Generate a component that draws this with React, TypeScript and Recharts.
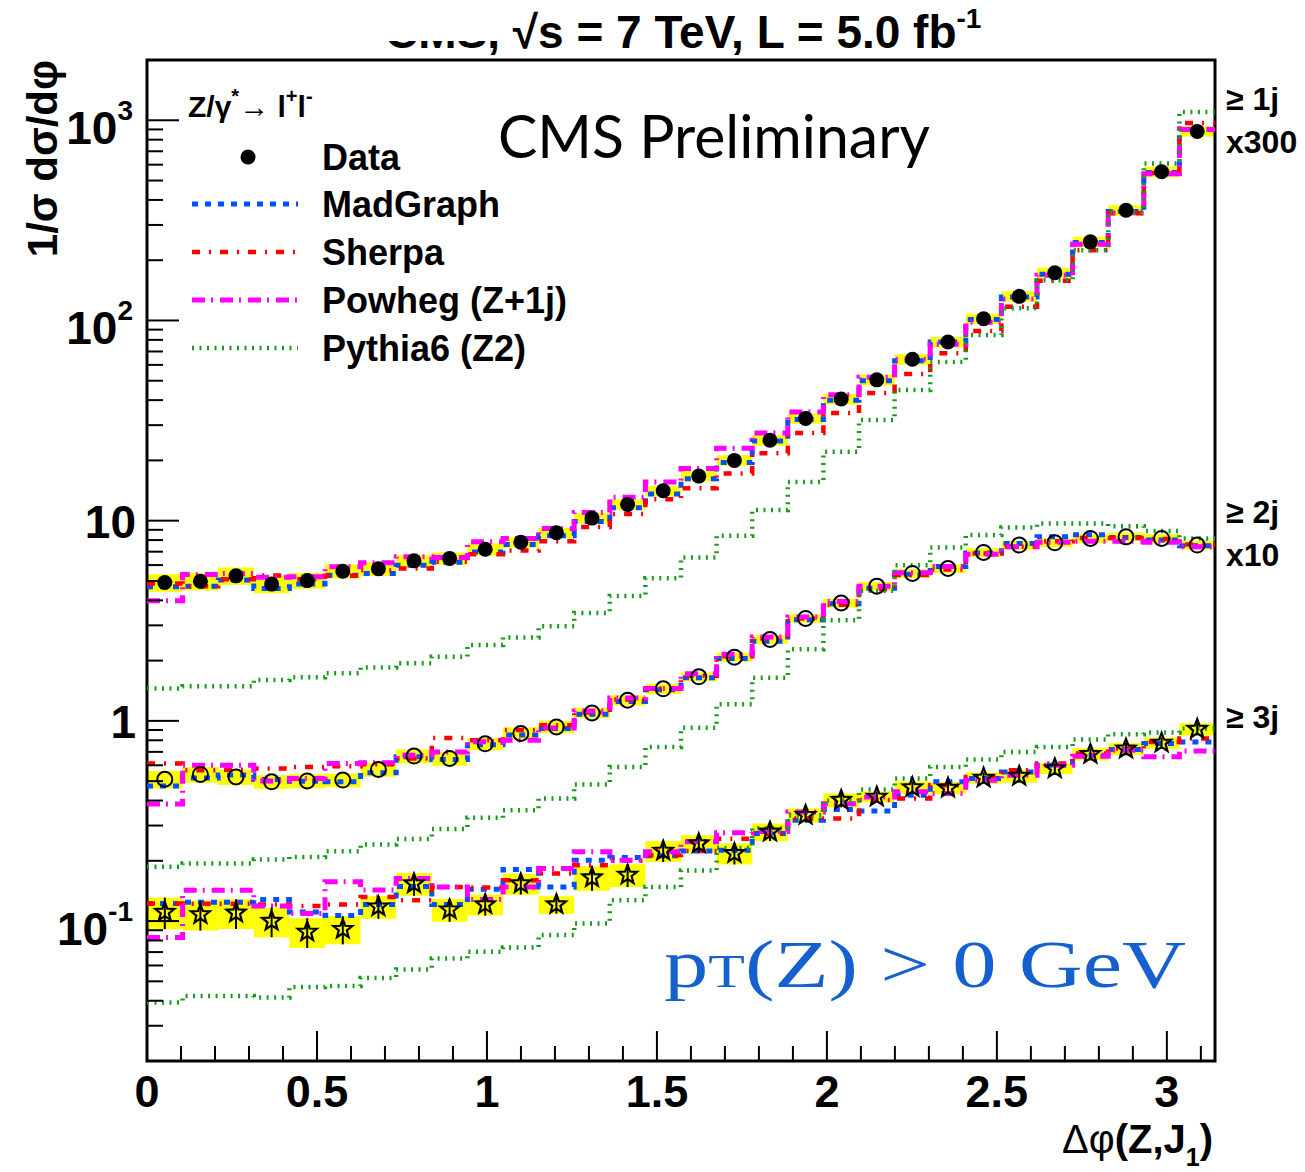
import React from 'react'
import { ComposedChart, Line, Scatter, XAxis, YAxis, ReferenceArea, ErrorBar } from 'recharts'

// 30 equal bins in delta-phi between 0 and pi
const N_BINS = 30
const BIN_WIDTH = Math.PI / N_BINS

// >= 1 jet (scaled x300)
const ONEJ_DATA = [4.91, 4.98, 5.30, 4.82, 5.02, 5.59, 5.75, 6.30, 6.48, 7.20, 7.80, 8.70, 10.3, 12.05, 14.1, 16.7, 20.0, 25.2, 32.4, 40.5, 50.5, 64.0, 78.0, 102, 132, 173, 247, 355, 553, 880]
const ONEJ_ERR = [0.10, 0.10, 0.10, 0.10, 0.09, 0.08, 0.08, 0.07, 0.07, 0.07, 0.06, 0.06, 0.06, 0.06, 0.06, 0.06, 0.06, 0.06, 0.06, 0.06, 0.06, 0.06, 0.06, 0.06, 0.06, 0.06, 0.06, 0.06, 0.06, 0.06]
const ONEJ_MADGRAPH = [4.67, 4.70, 5.05, 4.58, 4.82, 5.34, 5.44, 5.98, 6.20, 6.98, 7.60, 8.40, 9.90, 11.6, 13.6, 16.2, 19.5, 25.0, 32.0, 40.0, 50.0, 63.0, 78.0, 101, 131, 170, 245, 350, 548, 900]
const ONEJ_SHERPA = [4.86, 4.70, 5.10, 5.33, 5.10, 5.30, 5.66, 5.77, 6.24, 6.80, 7.10, 7.90, 9.30, 10.8, 12.8, 14.5, 17.2, 21.7, 27.4, 34.5, 43.4, 54.0, 68.6, 88.5, 117, 158, 224, 343, 545, 970]
const ONEJ_POWHEG = [3.98, 5.38, 5.44, 5.21, 5.25, 5.89, 6.16, 6.60, 6.55, 7.85, 8.15, 9.15, 11.0, 13.1, 15.6, 18.2, 23.0, 27.4, 34.9, 42.5, 52.0, 64.0, 76.0, 98.0, 128, 168, 240, 345, 540, 900]
const ONEJ_PYTHIA = [1.45, 1.49, 1.49, 1.60, 1.65, 1.73, 1.85, 1.94, 2.09, 2.39, 2.61, 2.97, 3.46, 4.21, 5.15, 6.55, 8.40, 11.3, 15.6, 22.1, 31.8, 44.9, 62.1, 84.5, 115, 159, 224, 349, 608, 1100]

// >= 2 jets (scaled x10)
const TWOJ_DATA = [0.511, 0.540, 0.525, 0.496, 0.501, 0.506, 0.572, 0.667, 0.649, 0.768, 0.865, 0.933, 1.096, 1.268, 1.445, 1.66, 2.08, 2.55, 3.25, 3.88, 4.71, 5.45, 5.77, 6.94, 7.55, 7.75, 8.15, 8.30, 8.15, 7.55]
const TWOJ_ERR = [0.10, 0.09, 0.09, 0.08, 0.08, 0.08, 0.08, 0.08, 0.08, 0.07, 0.07, 0.07, 0.06, 0.06, 0.06, 0.05, 0.05, 0.05, 0.05, 0.05, 0.05, 0.05, 0.05, 0.05, 0.05, 0.05, 0.05, 0.05, 0.05, 0.05]
const TWOJ_MADGRAPH = [0.473, 0.519, 0.536, 0.510, 0.500, 0.496, 0.550, 0.661, 0.641, 0.760, 0.850, 0.915, 1.08, 1.25, 1.43, 1.64, 2.05, 2.50, 3.20, 3.85, 4.60, 5.40, 5.90, 6.90, 7.70, 8.30, 8.50, 8.25, 8.00, 7.50]
const TWOJ_SHERPA = [0.612, 0.567, 0.570, 0.578, 0.589, 0.594, 0.608, 0.649, 0.820, 0.800, 0.900, 0.950, 1.10, 1.28, 1.45, 1.68, 2.10, 2.58, 3.25, 3.80, 4.55, 5.35, 5.70, 6.85, 7.40, 7.90, 8.20, 8.20, 8.10, 7.60]
const TWOJ_POWHEG = [0.384, 0.601, 0.601, 0.501, 0.515, 0.612, 0.618, 0.674, 0.700, 0.786, 0.800, 0.920, 1.12, 1.30, 1.45, 1.72, 2.15, 2.62, 3.30, 3.95, 4.70, 5.50, 5.90, 6.80, 7.40, 7.80, 7.90, 7.90, 7.80, 7.40]
const TWOJ_PYTHIA = [0.187, 0.194, 0.194, 0.203, 0.209, 0.223, 0.241, 0.257, 0.288, 0.328, 0.358, 0.409, 0.481, 0.589, 0.741, 0.923, 1.21, 1.64, 2.28, 3.18, 4.46, 5.99, 7.35, 8.47, 9.25, 9.69, 9.69, 9.39, 8.87, 8.15]

// >= 3 jets
const THREEJ_DATA = [0.111, 0.108, 0.110, 0.100, 0.0883, 0.0911, 0.118, 0.154, 0.114, 0.121, 0.154, 0.121, 0.165, 0.170, 0.224, 0.244, 0.218, 0.279, 0.338, 0.402, 0.417, 0.465, 0.462, 0.519, 0.530, 0.578, 0.682, 0.725, 0.776, 0.910]
const THREEJ_ERR = [0.18, 0.17, 0.17, 0.17, 0.17, 0.16, 0.13, 0.13, 0.13, 0.12, 0.12, 0.10, 0.14, 0.13, 0.12, 0.10, 0.12, 0.10, 0.08, 0.08, 0.06, 0.07, 0.07, 0.065, 0.075, 0.06, 0.07, 0.07, 0.065, 0.07]
const THREEJ_MADGRAPH = [0.1225, 0.124, 0.124, 0.128, 0.111, 0.1065, 0.121, 0.149, 0.121, 0.144, 0.181, 0.148, 0.201, 0.208, 0.212, 0.224, 0.226, 0.274, 0.319, 0.361, 0.355, 0.425, 0.496, 0.515, 0.556, 0.601, 0.674, 0.720, 0.771, 0.785]
const THREEJ_SHERPA = [0.1225, 0.122, 0.122, 0.121, 0.119, 0.121, 0.132, 0.127, 0.148, 0.147, 0.160, 0.173, 0.190, 0.200, 0.214, 0.224, 0.258, 0.274, 0.325, 0.325, 0.402, 0.410, 0.477, 0.525, 0.567, 0.612, 0.687, 0.728, 0.785, 0.817]
const THREEJ_POWHEG = [0.0828, 0.1426, 0.1426, 0.119, 0.109, 0.157, 0.143, 0.163, 0.148, 0.128, 0.148, 0.183, 0.222, 0.201, 0.222, 0.249, 0.276, 0.280, 0.351, 0.386, 0.417, 0.442, 0.434, 0.505, 0.535, 0.601, 0.666, 0.714, 0.661, 0.708]
const THREEJ_PYTHIA = [0.0392, 0.0422, 0.0422, 0.0415, 0.0469, 0.0474, 0.0520, 0.0573, 0.0650, 0.0702, 0.0738, 0.0851, 0.0973, 0.127, 0.148, 0.179, 0.232, 0.291, 0.338, 0.400, 0.454, 0.515, 0.589, 0.641, 0.700, 0.741, 0.807, 0.858, 0.875, 0.916]

const X_MAJOR = [0, 0.5, 1, 1.5, 2, 2.5, 3]
const X_LABELS = ['0', '0.5', '1', '1.5', '2', '2.5', '3']
const X_TICKS = Array.from({ length: 32 }, (_, i) => i / 10)

const Y_DOMAIN = [0.02, 2000]
const Y_MAJOR = [0.1, 1, 10, 100, 1000]
const Y_LABELS = [['10', '-1'], ['1', ''], ['10', ''], ['10', '2'], ['10', '3']]
const Y_TICKS = [0.01, 0.1, 1, 10, 100, 1000]
  .flatMap(d => [1, 2, 3, 4, 5, 6, 7, 8, 9].map(m => +(d * m).toPrecision(3)))
  .filter(v => v >= Y_DOMAIN[0] && v <= Y_DOMAIN[1])

const MC_STYLES = [
  { key: 'madgraph', name: 'MadGraph', color: '#0050ff', dash: '6 7', width: 5 },
  { key: 'sherpa', name: 'Sherpa', color: '#ff0000', dash: '8 9 2 9', width: 4.5 },
  { key: 'powheg', name: 'Powheg (Z+1j)', color: '#ff00ff', dash: '13 6 2 7', width: 5 },
  { key: 'pythia', name: 'Pythia6 (Z2)', color: '#1a9a1a', dash: '2 5.5', width: 4.5 },
]

const GROUPS = [
  { key: 'j1', marker: 'dot', data: ONEJ_DATA, err: ONEJ_ERR, bars: false,
    mc: { madgraph: ONEJ_MADGRAPH, sherpa: ONEJ_SHERPA, powheg: ONEJ_POWHEG, pythia: ONEJ_PYTHIA } },
  { key: 'j2', marker: 'ring', data: TWOJ_DATA, err: TWOJ_ERR, bars: false,
    mc: { madgraph: TWOJ_MADGRAPH, sherpa: TWOJ_SHERPA, powheg: TWOJ_POWHEG, pythia: TWOJ_PYTHIA } },
  { key: 'j3', marker: 'star', data: THREEJ_DATA, err: THREEJ_ERR, bars: true,
    mc: { madgraph: THREEJ_MADGRAPH, sherpa: THREEJ_SHERPA, powheg: THREEJ_POWHEG, pythia: THREEJ_PYTHIA } },
]

// plot frame in page pixels
const PLOT = { left: 147, top: 60, right: 1215, bottom: 1061 }
const FONT = 'Liberation Sans, Arial, sans-serif'

// histogram outline: one point per bin edge, last bin repeated to close the step
const stepRows = (vals: number[]) =>
  [...vals, vals[vals.length - 1]].map((y, i) => ({ x: i * BIN_WIDTH, y }))

const pointRows = (vals: number[], errs: number[]) =>
  vals.map((y, i) => ({
    x: (i + 0.5) * BIN_WIDTH,
    y,
    lo: y * (1 - errs[i]),
    hi: y * (1 + errs[i]),
    err: [y * errs[i], y * errs[i]],
    x1: i * BIN_WIDTH,
    x2: (i + 1) * BIN_WIDTH,
  }))

const isMajorX = (v: number) => X_MAJOR.findIndex(m => Math.abs(m - v) < 1e-6)
const isMajorY = (v: number) => Y_MAJOR.findIndex(m => Math.abs(Math.log10(m) - Math.log10(v)) < 1e-6)

const BottomTick = (props: any) => {
  const { x, payload } = props
  const idx = isMajorX(payload.value)
  const len = idx >= 0 ? 30 : 15
  return (
    <g>
      <line x1={x} x2={x} y1={PLOT.bottom} y2={PLOT.bottom - len} stroke="#000" strokeWidth={2} />
      {idx >= 0 && (
        <text x={x} y={PLOT.bottom + 46} textAnchor="middle" fontFamily={FONT} fontWeight="bold" fontSize={45} fill="#000">
          {X_LABELS[idx]}
        </text>
      )}
    </g>
  )
}

const TopTick = (props: any) => {
  const { x, payload } = props
  const len = isMajorX(payload.value) >= 0 ? 28 : 13
  return <line x1={x} x2={x} y1={PLOT.top} y2={PLOT.top + len} stroke="#000" strokeWidth={2} />
}

const LeftTick = (props: any) => {
  const { y, payload } = props
  const idx = isMajorY(payload.value)
  const len = idx >= 0 ? 32 : 16
  let label = null
  if (idx >= 0) {
    const [base, sup] = Y_LABELS[idx]
    label = sup ? (
      <text x={133} y={y + 24} textAnchor="end" fontFamily={FONT} fontWeight="bold" fontSize={46} fill="#000">
        {base}
        <tspan dy={-24} fontSize={28}>{sup}</tspan>
      </text>
    ) : (
      <text x={136} y={y + 17} textAnchor="end" fontFamily={FONT} fontWeight="bold" fontSize={46} fill="#000">
        {base}
      </text>
    )
  }
  return (
    <g>
      <line x1={PLOT.left} x2={PLOT.left + len} y1={y} y2={y} stroke="#000" strokeWidth={2} />
      {label}
    </g>
  )
}

const RightTick = (props: any) => {
  const { y, payload } = props
  const len = isMajorY(payload.value) >= 0 ? 31 : 14
  return <line x1={PLOT.right} x2={PLOT.right - len} y1={y} y2={y} stroke="#000" strokeWidth={2} />
}

const starPoints = (cx: number, cy: number, R: number, r: number) => {
  const pts: string[] = []
  for (let k = 0; k < 10; k++) {
    const a = -Math.PI / 2 + (k * Math.PI) / 5
    const rad = k % 2 === 0 ? R : r
    pts.push(`${cx + rad * Math.cos(a)},${cy + rad * Math.sin(a)}`)
  }
  return pts.join(' ')
}

const markerShape = (kind: string) => (p: any) => {
  if (kind === 'dot') return <circle cx={p.cx} cy={p.cy} r={7.5} fill="#000" />
  if (kind === 'ring') return <circle cx={p.cx} cy={p.cy} r={7.5} fill="none" stroke="#000" strokeWidth={2} />
  return <polygon points={starPoints(p.cx, p.cy, 10, 4.2)} fill="none" stroke="#000" strokeWidth={2.2} strokeLinejoin="miter" />
}

const LEGEND_Y = [157, 204, 252, 300, 348]

export default function App() {
  const groups = GROUPS.map(g => ({ ...g, points: pointRows(g.data, g.err) }))

  return (
    <div style={{ position: 'absolute', left: 0, top: 0, width: 1305, height: 1172, background: '#fff' }}>
      <ComposedChart width={1305} height={1172} margin={{ top: 60, right: 90, bottom: 0, left: 0 }}>
        <XAxis dataKey="x" type="number" domain={[0, Math.PI]} allowDataOverflow ticks={X_TICKS} interval={0}
          height={111} tickLine={false} axisLine={false} tick={BottomTick} />
        <XAxis xAxisId="top" orientation="top" dataKey="x" type="number" domain={[0, Math.PI]} allowDataOverflow
          ticks={X_TICKS} interval={0} height={0} tickLine={false} axisLine={false} tick={TopTick} />
        <YAxis dataKey="y" scale="log" domain={Y_DOMAIN} allowDataOverflow ticks={Y_TICKS} interval={0}
          width={147} tickLine={false} axisLine={false} tick={LeftTick} />
        <YAxis yAxisId="right" orientation="right" dataKey="y" scale="log" domain={Y_DOMAIN} allowDataOverflow
          ticks={Y_TICKS} interval={0} width={0} tickLine={false} axisLine={false} tick={RightTick} />

        {/* systematic uncertainty bands */}
        {groups.flatMap(g =>
          g.points.map((p, i) => (
            <ReferenceArea key={`${g.key}-box-${i}`} x1={p.x1} x2={p.x2} y1={p.lo} y2={p.hi}
              fill="#ffff00" fillOpacity={1} stroke="none" ifOverflow="visible" />
          ))
        )}

        {groups.flatMap(g =>
          MC_STYLES.map(s => (
            <Line key={`${g.key}-${s.key}`} data={stepRows((g.mc as any)[s.key])} dataKey="y" type="stepAfter"
              stroke={s.color} strokeWidth={s.width} strokeDasharray={s.dash} strokeLinecap="butt"
              dot={false} activeDot={false} isAnimationActive={false} legendType="none" />
          ))
        )}

        {groups.map(g => (
          <Scatter key={`${g.key}-data`} data={g.points} dataKey="y" shape={markerShape(g.marker)}
            isAnimationActive={false} legendType="none">
            {g.bars && <ErrorBar dataKey="err" direction="y" width={0} stroke="#000" strokeWidth={2} />}
          </Scatter>
        ))}

        {/* frame */}
        <ReferenceArea x1={0} x2={Math.PI} y1={Y_DOMAIN[0]} y2={Y_DOMAIN[1]} fill="none" stroke="#000"
          strokeWidth={3} ifOverflow="visible" />
      </ComposedChart>

      <svg width={1305} height={1172} style={{ position: 'absolute', left: 0, top: 0, pointerEvents: 'none' }}>
        <g fontFamily={FONT} fontWeight="bold" fill="#000">
          <text x={385} y={48} fontSize={46}>
            CMS, √s = 7 TeV, L = 5.0 fb<tspan dy={-20} fontSize={28}>-1</tspan>
          </text>
          <rect x={370} y={0} width={137} height={41} fill="#fff" />

          <text x={188} y={117} fontSize={30}>
            Z/γ<tspan dy={-14} fontSize={20}>*</tspan>
            <tspan dy={14} fontWeight="normal">→ </tspan>l<tspan dy={-14} fontSize={20}>+</tspan>
            <tspan dy={14}>l</tspan><tspan dy={-14} fontSize={20}>-</tspan>
          </text>

          <circle cx={248} cy={LEGEND_Y[0]} r={7.5} fill="#000" />
          <text x={322} y={LEGEND_Y[0] + 13} fontSize={36}>Data</text>
          {MC_STYLES.map((s, i) => (
            <g key={s.key}>
              <line x1={192} x2={298} y1={LEGEND_Y[i + 1]} y2={LEGEND_Y[i + 1]} stroke={s.color}
                strokeWidth={s.width} strokeDasharray={s.dash} />
              <text x={322} y={LEGEND_Y[i + 1] + 13} fontSize={36}>{s.name}</text>
            </g>
          ))}

          <text x={1226} y={110} fontSize={32}>≥ 1j</text>
          <text x={1226} y={153} fontSize={32}>x300</text>
          <text x={1226} y={523} fontSize={32}>≥ 2j</text>
          <text x={1226} y={566} fontSize={32}>x10</text>
          <text x={1226} y={728} fontSize={32}>≥ 3j</text>

          <text transform="translate(57,60) rotate(-90)" textAnchor="end" fontSize={42}>1/σ dσ/dφ</text>

          <text x={1213} y={1153} textAnchor="end" fontSize={40}>
            <tspan fontWeight="normal">Δφ</tspan>(Z,J<tspan dy={13} fontSize={25}>1</tspan><tspan dy={-13}>)</tspan>
          </text>
        </g>

        <text x={498} y={158} fontFamily="Lato, Open Sans, sans-serif" fontSize={60} fill="#000"
          textLength={432} lengthAdjust="spacingAndGlyphs">CMS Preliminary</text>

        <text x={664} y={987} fontFamily="Liberation Serif, Times New Roman, serif" fontSize={68} fill="#1560cf"
          textLength={522} lengthAdjust="spacingAndGlyphs">
          p<tspan fontSize={46}>T</tspan>(Z) &gt; 0 GeV
        </text>
      </svg>
    </div>
  )
}
